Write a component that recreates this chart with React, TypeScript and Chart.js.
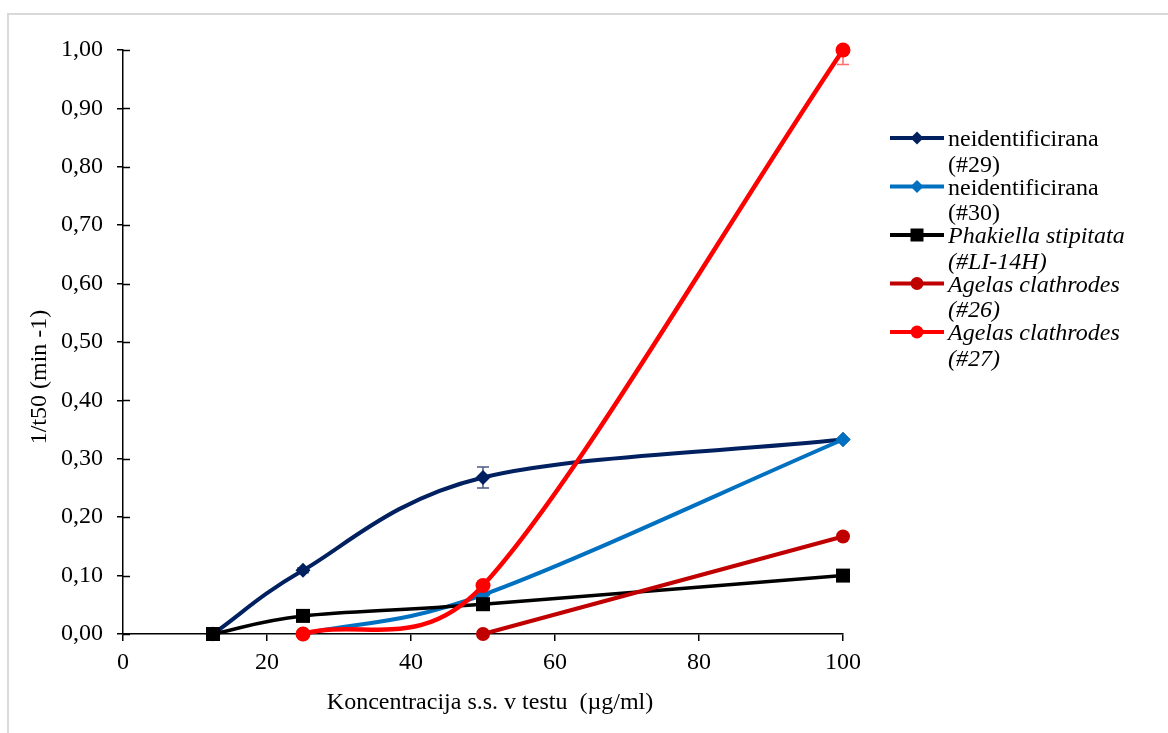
import React, { useEffect, useRef } from 'react';
import { Chart, registerables } from 'chart.js';

Chart.register(...registerables);

const FONT = '"Liberation Serif", "Times New Roman", serif';

// Axis ticks
const xTickValues = [0, 20, 40, 60, 80, 100];
const yTickValues = [0, 0.1, 0.2, 0.3, 0.4, 0.5, 0.6, 0.7, 0.8, 0.9, 1.0];

// neidentificirana (#29)
const conc29 = [12.5, 25, 50, 100];
const val29 = [0, 0.109, 0.268, 0.333];
const err29 = [0, 0.004, 0.018, 0];

// neidentificirana (#30)
const conc30 = [25, 50, 100];
const val30 = [0, 0.067, 0.333];

// Phakiella stipitata (#LI-14H)
const concLI = [12.5, 25, 50, 100];
const valLI = [0, 0.031, 0.051, 0.1];

// Agelas clathrodes (#26)
const conc26 = [50, 100];
const val26 = [0, 0.167];

// Agelas clathrodes (#27)
const conc27 = [25, 50, 100];
const val27 = [0, 0.083, 1.0];
const err27Minus = [0, 0, 0.025];

const legendLines = [
  ['neidentificirana', '(#29)'],
  ['neidentificirana', '(#30)'],
  ['Phakiella stipitata', '(#LI-14H)'],
  ['Agelas clathrodes', '(#26)'],
  ['Agelas clathrodes', '(#27)'],
];

const xTitle = 'Koncentracija s.s. v testu  (µg/ml)';
const yTitle = '1/t50 (min -1)';

type Series = {
  xs: number[];
  ys: number[];
  errPlus?: number[];
  errMinus?: number[];
  color: string;
  errColor?: string;
  width: number;
  marker: 'diamond' | 'square' | 'circle';
  radius: number;
  italic: boolean;
};

const series: Series[] = [
  { xs: conc29, ys: val29, errPlus: err29, errMinus: err29, color: '#002060', errColor: '#4b5a85', width: 4, marker: 'diamond', radius: 7.5, italic: false },
  { xs: conc30, ys: val30, color: '#0070C0', width: 4, marker: 'diamond', radius: 7.5, italic: false },
  { xs: concLI, ys: valLI, color: '#000000', width: 3.5, marker: 'square', radius: 7, italic: true },
  { xs: conc26, ys: val26, color: '#C00000', width: 4, marker: 'circle', radius: 7, italic: true },
  { xs: conc27, ys: val27, errMinus: err27Minus, color: '#FF0000', errColor: '#ff6b6b', width: 4.5, marker: 'circle', radius: 7.5, italic: true },
];

function markerPath(ctx: CanvasRenderingContext2D, kind: string, x: number, y: number, r: number) {
  ctx.beginPath();
  if (kind === 'diamond') {
    ctx.moveTo(x, y - r);
    ctx.lineTo(x + r, y);
    ctx.lineTo(x, y + r);
    ctx.lineTo(x - r, y);
    ctx.closePath();
  } else if (kind === 'square') {
    ctx.rect(x - r, y - r, 2 * r, 2 * r);
  } else {
    ctx.arc(x, y, r, 0, Math.PI * 2);
  }
}

const pointStyleOf = (m: string) => (m === 'diamond' ? 'rectRot' : m === 'square' ? 'rect' : 'circle');
// Chart.js sizes 'rect' by its circumscribed radius
const pointRadiusOf = (s: Series) => (s.marker === 'square' ? s.radius * Math.SQRT2 : s.radius);

// Spreadsheet-style smoothed line: Bezier control points with 1/6 tension,
// limited to half of the segment length.
const smoothPlugin = {
  id: 'spreadsheetSmooth',
  beforeDatasetDraw(chart: any, args: any) {
    const meta = args.meta;
    const line = meta.dataset;
    if (!line) return;
    line.updateControlPoints(chart.chartArea, meta.indexAxis);
    const p = meta.data as any[];
    const n = p.length;
    const dist = (a: any, b: any) => Math.hypot(b.x - a.x, b.y - a.y);
    for (let i = 0; i < n - 1; i++) {
      const P1 = p[i];
      const P2 = p[i + 1];
      const P0 = i > 0 ? p[i - 1] : P1;
      const P3 = i + 2 < n ? p[i + 2] : P2;
      const d02 = dist(P0, P2);
      const d12 = dist(P1, P2);
      const d13 = dist(P1, P3);
      let s1 = P0 === P1 ? 1 / 3 : 1 / 6;
      let s2 = P3 === P2 ? 1 / 3 : 1 / 6;
      if (d02 / 6 >= d12 / 2 && d02 > 0) s1 = d12 / 2 / d02;
      if (d13 / 6 >= d12 / 2 && d13 > 0) s2 = d12 / 2 / d13;
      P1.cp2x = P1.x + s1 * (P2.x - P0.x);
      P1.cp2y = P1.y + s1 * (P2.y - P0.y);
      P2.cp1x = P2.x - s2 * (P3.x - P1.x);
      P2.cp1y = P2.y - s2 * (P3.y - P1.y);
    }
    if (n) {
      p[0].cp1x = p[0].x;
      p[0].cp1y = p[0].y;
      p[n - 1].cp2x = p[n - 1].x;
      p[n - 1].cp2y = p[n - 1].y;
    }
  },
};

const errorBarPlugin = {
  id: 'errorBars',
  beforeDatasetsDraw(chart: any) {
    const { ctx, scales } = chart;
    const xs = scales.x;
    const ys = scales.y;
    series.forEach((s) => {
      if (!s.errPlus && !s.errMinus) return;
      ctx.save();
      ctx.strokeStyle = s.errColor || s.color;
      ctx.lineWidth = 1.5;
      s.xs.forEach((xv, i) => {
        const up = s.errPlus ? s.errPlus[i] : 0;
        const dn = s.errMinus ? s.errMinus[i] : 0;
        if (!up && !dn) return;
        const px = xs.getPixelForValue(xv);
        const cap = 6;
        const ends: number[] = [];
        if (up) ends.push(ys.getPixelForValue(s.ys[i] + up));
        if (dn) ends.push(ys.getPixelForValue(s.ys[i] - dn));
        const py = ys.getPixelForValue(s.ys[i]);
        ends.forEach((ey) => {
          ctx.beginPath();
          ctx.moveTo(px, py);
          ctx.lineTo(px, ey);
          ctx.moveTo(px - cap, ey);
          ctx.lineTo(px + cap, ey);
          ctx.stroke();
        });
      });
      ctx.restore();
    });
  },
};

const decorPlugin = {
  id: 'decor',
  afterDraw(chart: any) {
    const { ctx, chartArea, scales } = chart;
    ctx.save();
    // inner half of the y-axis cross ticks
    ctx.strokeStyle = '#000';
    ctx.lineWidth = 1.5;
    scales.y.ticks.forEach((t: any) => {
      const py = Math.round(scales.y.getPixelForValue(t.value)) + 0.5;
      ctx.beginPath();
      ctx.moveTo(chartArea.left, py);
      ctx.lineTo(chartArea.left + 7, py);
      ctx.stroke();
    });

    // axis titles
    ctx.fillStyle = '#000';
    ctx.font = `24px ${FONT}`;
    ctx.textAlign = 'center';
    ctx.textBaseline = 'middle';
    ctx.fillText(xTitle, 490, 703);
    ctx.save();
    ctx.translate(40, 377);
    ctx.rotate(-Math.PI / 2);
    ctx.fillText(yTitle, 0, 0);
    ctx.restore();

    // legend
    const lx0 = 890;
    const lx1 = 944;
    const top = 138;
    const step = 48.5;
    series.forEach((s, i) => {
      const ly = top + i * step;
      ctx.strokeStyle = s.color;
      ctx.lineWidth = 4;
      ctx.beginPath();
      ctx.moveTo(lx0, ly);
      ctx.lineTo(lx1, ly);
      ctx.stroke();
      ctx.fillStyle = s.color;
      markerPath(ctx, s.marker, (lx0 + lx1) / 2, ly, 6.5);
      ctx.fill();
      ctx.fillStyle = '#000';
      ctx.textAlign = 'left';
      ctx.textBaseline = 'alphabetic';
      ctx.font = `${s.italic ? 'italic ' : ''}24px ${FONT}`;
      ctx.fillText(legendLines[i][0], 948, ly + 8);
      ctx.fillText(legendLines[i][1], 948, ly + 33.5);
    });
    ctx.restore();
  },
};

export default function App() {
  const ref = useRef<HTMLCanvasElement>(null);

  useEffect(() => {
    if (!ref.current) return;
    const n = series.length;
    const chart = new Chart(ref.current, {
      type: 'line',
      data: {
        datasets: series.map((s, i) => ({
          label: legendLines[i].join(' '),
          data: s.xs.map((x, j) => ({ x, y: s.ys[j] })),
          borderColor: s.color,
          backgroundColor: s.color,
          pointBackgroundColor: s.color,
          pointBorderColor: s.color,
          pointBorderWidth: 0,
          pointStyle: pointStyleOf(s.marker),
          pointRadius: pointRadiusOf(s),
          borderWidth: s.width,
          tension: 0.4,
          clip: false,
          order: n - i,
        })),
      },
      options: {
        animation: false,
        responsive: true,
        maintainAspectRatio: false,
        layout: { padding: { top: 50, right: 325, bottom: 0, left: 0 } },
        plugins: {
          legend: { display: false },
          tooltip: { enabled: false },
          title: { display: false },
        },
        scales: {
          x: {
            type: 'linear',
            min: 0,
            max: 100,
            afterFit: (s: any) => {
              s.height = 99;
            },
            afterBuildTicks: (s: any) => {
              s.ticks = xTickValues.map((v) => ({ value: v }));
            },
            ticks: {
              font: { family: FONT, size: 24 },
              color: '#000',
              padding: 7,
              maxRotation: 0,
              callback: (v: any) => String(v),
            },
            grid: { drawOnChartArea: false, drawTicks: true, tickLength: 7, color: '#000', lineWidth: 1.5 },
            border: { display: true, color: '#000', width: 1.5 },
          },
          y: {
            type: 'linear',
            min: 0,
            max: 1,
            afterFit: (s: any) => {
              s.width = 123;
            },
            afterBuildTicks: (s: any) => {
              s.ticks = yTickValues.map((v) => ({ value: v }));
            },
            ticks: {
              font: { family: FONT, size: 24 },
              color: '#000',
              padding: 14,
              callback: (v: any) => Number(v).toFixed(2).replace('.', ','),
            },
            grid: { drawOnChartArea: false, drawTicks: true, tickLength: 6, color: '#000', lineWidth: 1.5 },
            border: { display: true, color: '#000', width: 1.5 },
          },
        },
      },
      plugins: [smoothPlugin, errorBarPlugin, decorPlugin],
    } as any);
    return () => chart.destroy();
  }, []);

  return (
    <div style={{ position: 'fixed', left: 0, top: 0, width: 1168, height: 733, background: '#fff', overflow: 'hidden' }}>
      <div
        style={{
          position: 'absolute',
          left: 7,
          top: 13,
          right: 0,
          bottom: 0,
          borderTop: '2px solid #d9d9d9',
          borderLeft: '2px solid #d9d9d9',
        }}
      />
      <canvas ref={ref} style={{ position: 'absolute', left: 0, top: 0 }} />
    </div>
  );
}
